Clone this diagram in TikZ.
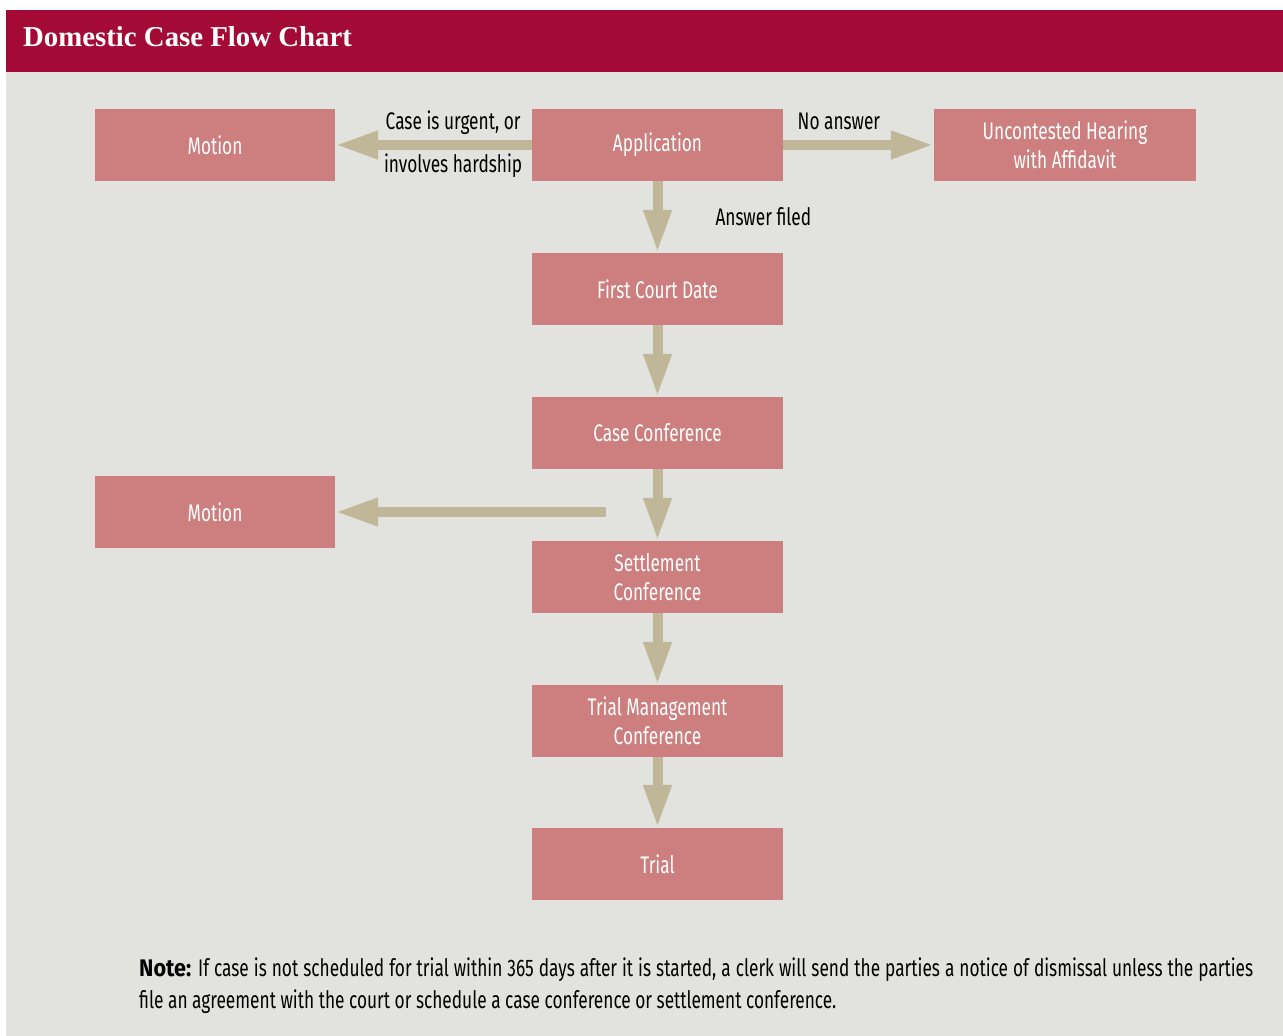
\documentclass[tikz,border=0pt]{standalone}
\usepackage{fontspec}
\setmainfont{Fira Sans}[FakeStretch=0.72]
\newfontfamily\titlefont{Liberation Serif}
\newfontfamily\heavyfont{Fira Sans}[FakeStretch=0.9]
\usetikzlibrary{arrows.meta}
\definecolor{barred}{HTML}{A30A35}
\definecolor{paper}{HTML}{E2E2DE}
\definecolor{boxpink}{HTML}{CC7F7E}
\definecolor{flowtan}{HTML}{BFB797}
\begin{document}
\begin{tikzpicture}[x = 1pt, y = -1pt,
        stage/.style = {fill = boxpink, text = white, minimum width = 251pt,
            minimum height = 72pt, inner sep = 0pt, align = center,
            font = \fontsize{24}{29}\selectfont},
        side/.style = {stage, minimum width = 240pt},
        flow/.style = {flowtan, line width = 10pt,
            -{Triangle[length = 43pt, width = 26pt]}},
        lbl/.style = {text = black, inner sep = 4pt,
            font = \fontsize{24}{29}\selectfont}
    ]
    \useasboundingbox (0, 0) rectangle (1283, 1036);
    \fill [paper] (6, 72) rectangle (1283, 1036);
    \fill [barred] (6, 10) rectangle (1283, 72);
    \node [anchor = base west, text = white, inner sep = 0pt,
        font = \titlefont\bfseries\fontsize{28.8}{30}\selectfont]
        (title) at (23, 46) {Domestic Case Flow Chart};

    % boxes
    \node [side] (motionA) at (215, 145) {Motion};
    \node [stage] (app) at (657.5, 145) {Application};
    \node [stage, minimum width = 262pt] (uncont) at (1065, 145)
        {Uncontested Hearing\\with Affidavit};
    \node [stage] (court) at (657.5, 289) {First Court Date};
    \node [stage] (conf) at (657.5, 433) {Case Conference};
    \node [side] (motionB) at (215, 512) {Motion};
    \node [stage] (settle) at (657.5, 577) {Settlement\\Conference};
    \node [stage] (tmc) at (657.5, 721) {Trial Management\\Conference};
    \node [stage] (trial) at (657.5, 864) {Trial};
    \coordinate (split) at (606, 512);

    % arrows
    \draw [flow] (app) -- node [lbl, above, pos = 0.4, yshift = 1pt] (urgent) {Case is urgent, or}
        node [lbl, below, pos = 0.4] (hardship) {involves hardship} (motionA);
    \draw [flow] (app) -- node [lbl, above, pos = 0.37, yshift = 6pt] (noans) {No answer} (uncont);
    \draw [flow] (app) -- node [lbl, anchor = west, xshift = 49pt] (filed) {Answer filed} (court);
    \draw [flow] (court) -- (conf);
    \draw [flow] (conf) -- (settle);
    \draw [flow] (split) -- (split -| motionB.east);
    \draw [flow] (settle) -- (tmc);
    \draw [flow] (tmc) -- (trial);

    \node [anchor = base west, text width = 1114pt, align = justify, inner sep = 0pt,
        font = \fontsize{24}{32}\selectfont] (note) at (139, 976)
        {{\heavyfont\bfseries Note:} If case is not scheduled for trial within 365 days after it is
        started, a clerk will send the parties a notice of dismissal unless the
        parties\linebreak file an agreement with the court or schedule a case
        conference or settlement conference.};
\end{tikzpicture}
\end{document}
